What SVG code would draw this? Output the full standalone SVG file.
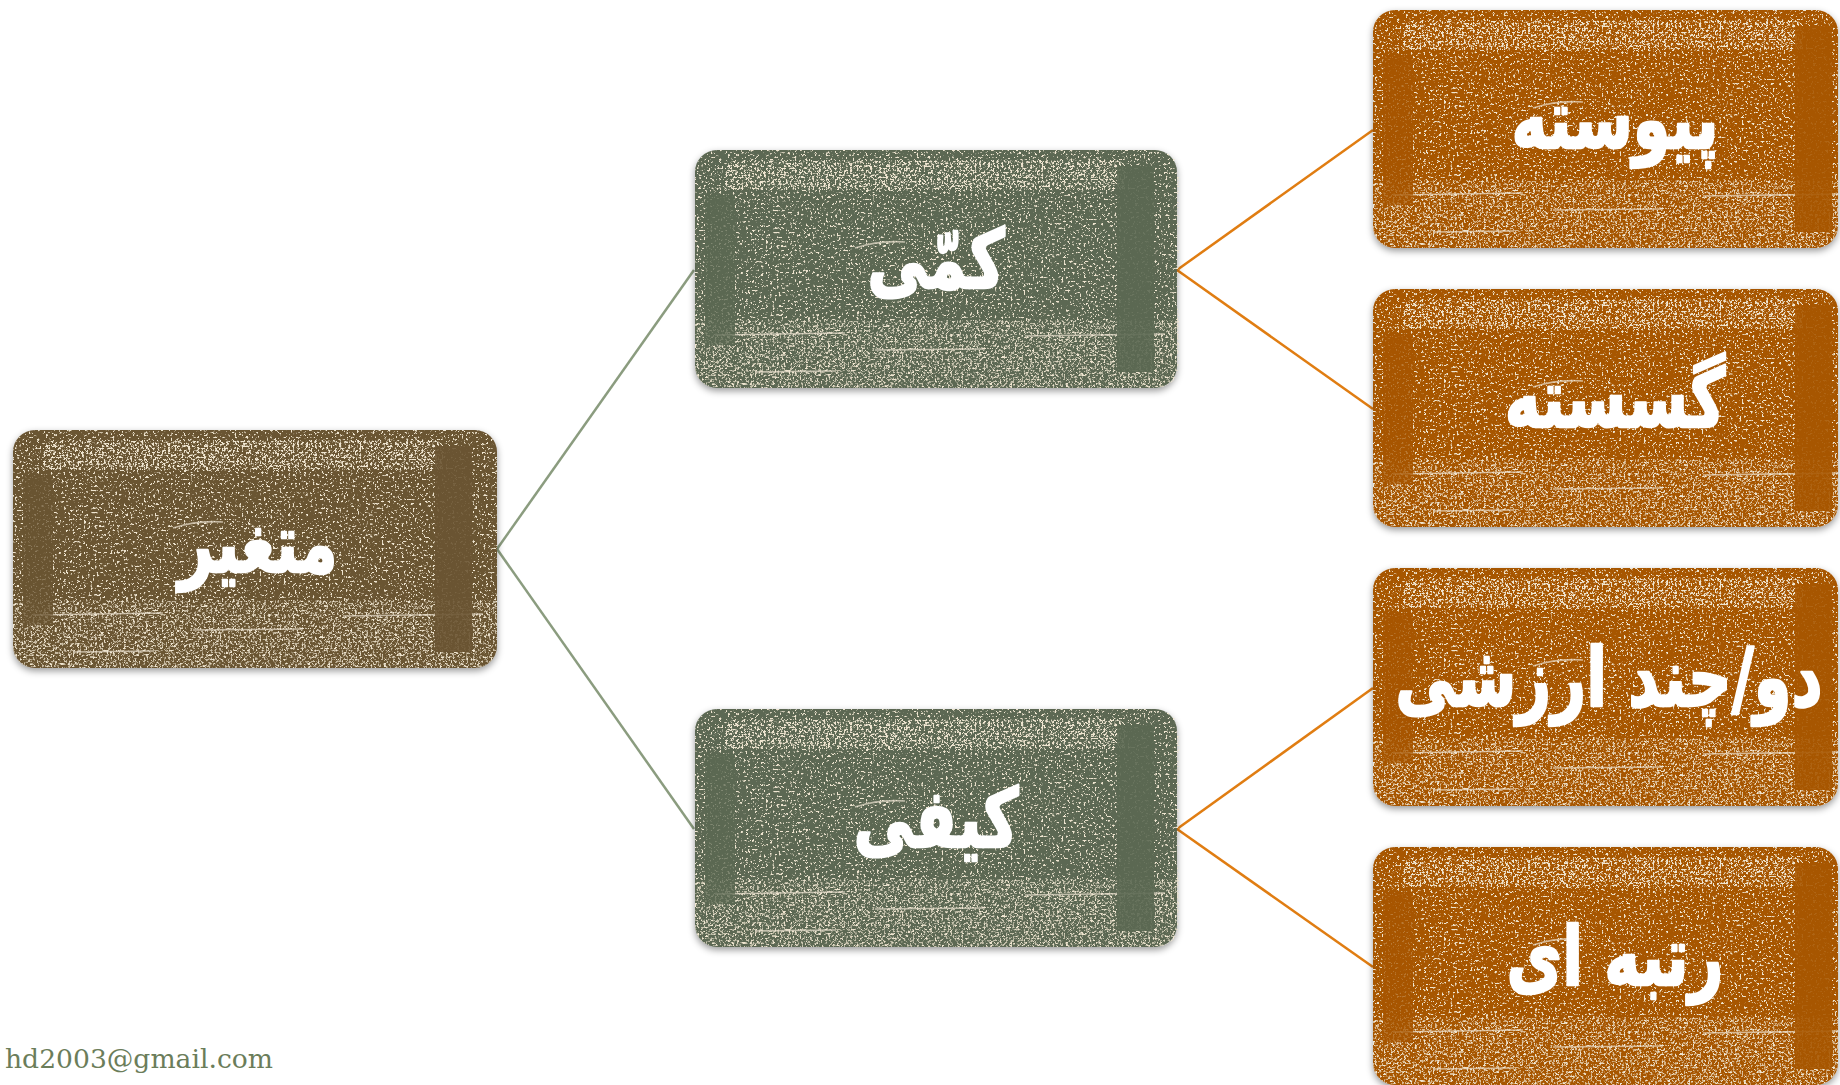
<svg xmlns="http://www.w3.org/2000/svg" width="1840" height="1085" viewBox="0 0 1840 1085">
<style>
.bg{fill:#ffffff}
.brown{fill:#6a5432}
.green{fill:#5b6852}
.orange{fill:#a75600}
.speck{fill:#000}
.lbl{font-family:"DejaVu Sans","Noto Sans",sans-serif;font-weight:bold;font-size:82px;fill:#ffffff;stroke:#ffffff;stroke-width:2.5;stroke-linejoin:round;text-anchor:middle;direction:rtl}
.c-green{stroke:#8b9c7f;stroke-width:2.5;fill:none}
.c-orange{stroke:#e07d12;stroke-width:2.5;fill:none}
.mail{font-family:"DejaVu Serif","Liberation Serif",serif;fill:#6b7d5a;font-size:26px}
.scr{stroke:#ece3d2;stroke-width:1.6;fill:none;opacity:0.7}
</style>
<defs>
<filter id="shadow" x="-5%" y="-5%" width="110%" height="115%">
<feDropShadow dx="0" dy="3" stdDeviation="3.5" flood-color="#000" flood-opacity="0.4"/>
</filter>
<filter id="speck" x="0" y="0" width="100%" height="100%" color-interpolation-filters="sRGB">
<feTurbulence type="fractalNoise" baseFrequency="0.45" numOctaves="3" seed="11" result="n"/>
<feColorMatrix in="n" type="matrix" values="0 0 0 0 0.94  0 0 0 0 0.9  0 0 0 0 0.82  9 0 0 0 -5.4" result="s"/>
<feComposite in="s" in2="SourceAlpha" operator="in"/>
</filter>
<filter id="speckDense" x="0" y="0" width="100%" height="100%" color-interpolation-filters="sRGB">
<feTurbulence type="fractalNoise" baseFrequency="0.45" numOctaves="3" seed="4" result="n"/>
<feColorMatrix in="n" type="matrix" values="0 0 0 0 0.94  0 0 0 0 0.9  0 0 0 0 0.82  9 0 0 0 -4.9" result="s"/>
<feComposite in="s" in2="SourceAlpha" operator="in"/>
</filter>
<clipPath id="clipFull"><rect width="484" height="238" rx="22"/></clipPath>
<clipPath id="clipOrange"><rect width="465" height="238" rx="22"/></clipPath>
<symbol id="grain" viewBox="0 0 484 238" width="484" height="238" overflow="visible">
<rect class="speck" width="484" height="238" filter="url(#speck)"/>
<rect class="speck" x="30" y="10" width="400" height="30" filter="url(#speckDense)"/>
<rect class="speck" x="0" y="170" width="484" height="68" filter="url(#speckDense)" opacity="0.7"/>
<path class="scr" d="M160,98 Q185,90 210,92"/>
<path class="scr" d="M20,185 L150,183 M180,200 L290,199 M330,186 L470,184 M60,222 L140,221"/>
</symbol>
</defs>
<rect class="bg" width="1840" height="1085"/>
<g id="connectors">
<path class="c-green" d="M497,549 L694,270"/>
<path class="c-green" d="M497,549 L694,829"/>
<path class="c-orange" d="M1177,270 L1373,130"/>
<path class="c-orange" d="M1177,270 L1373,409"/>
<path class="c-orange" d="M1177,829 L1373,688"/>
<path class="c-orange" d="M1177,829 L1373,967"/>
</g>
<g id="node-motaghayer" transform="translate(13,430)">
<rect class="brown" width="484" height="238" rx="22" filter="url(#shadow)"/>
<g clip-path="url(#clipFull)">
<use href="#grain"/>
<rect class="brown" x="10" y="45" width="30" height="150" opacity="0.75"/>
<rect class="brown" x="422" y="16" width="37" height="206" opacity="0.9"/>
</g>
<text class="lbl" transform="translate(245,142) scale(0.74,1)">متغیر</text>
</g>
<g id="node-kammi" transform="translate(695,150)">
<rect class="green" width="482" height="238" rx="22" filter="url(#shadow)"/>
<g clip-path="url(#clipFull)">
<use href="#grain"/>
<rect class="green" x="10" y="45" width="30" height="150" opacity="0.75"/>
<rect class="green" x="422" y="16" width="37" height="206" opacity="0.9"/>
</g>
<text class="lbl" transform="translate(241,138) scale(0.74,1)">کمّی</text>
</g>
<g id="node-keyfi" transform="translate(695,709)">
<rect class="green" width="482" height="238" rx="22" filter="url(#shadow)"/>
<g clip-path="url(#clipFull)">
<use href="#grain"/>
<rect class="green" x="10" y="45" width="30" height="150" opacity="0.75"/>
<rect class="green" x="422" y="16" width="37" height="206" opacity="0.9"/>
</g>
<text class="lbl" transform="translate(241,138) scale(0.74,1)">کیفی</text>
</g>
<g id="node-peyvaste" transform="translate(1373,10)">
<rect class="orange" width="465" height="238" rx="22" filter="url(#shadow)"/>
<g clip-path="url(#clipOrange)">
<use href="#grain"/>
<rect class="orange" x="10" y="45" width="30" height="150" opacity="0.75"/>
<rect class="orange" x="422" y="16" width="37" height="206" opacity="0.9"/>
</g>
<text class="lbl" transform="translate(242,138) scale(0.74,1)">پیوسته</text>
</g>
<g id="node-gosaste" transform="translate(1373,289)">
<rect class="orange" width="465" height="238" rx="22" filter="url(#shadow)"/>
<g clip-path="url(#clipOrange)">
<use href="#grain"/>
<rect class="orange" x="10" y="45" width="30" height="150" opacity="0.75"/>
<rect class="orange" x="422" y="16" width="37" height="206" opacity="0.9"/>
</g>
<text class="lbl" transform="translate(242,138) scale(0.74,1)">گسسته</text>
</g>
<g id="node-do-chand" transform="translate(1373,568)">
<rect class="orange" width="465" height="238" rx="22" filter="url(#shadow)"/>
<g clip-path="url(#clipOrange)">
<use href="#grain"/>
<rect class="orange" x="10" y="45" width="30" height="150" opacity="0.75"/>
<rect class="orange" x="422" y="16" width="37" height="206" opacity="0.9"/>
</g>
<text class="lbl" transform="translate(236,138) scale(0.74,1)">دو/چند ارزشی</text>
</g>
<g id="node-rotbe" transform="translate(1373,847)">
<rect class="orange" width="465" height="238" rx="22" filter="url(#shadow)"/>
<g clip-path="url(#clipOrange)">
<use href="#grain"/>
<rect class="orange" x="10" y="45" width="30" height="150" opacity="0.75"/>
<rect class="orange" x="422" y="16" width="37" height="206" opacity="0.9"/>
</g>
<text class="lbl" transform="translate(242,138) scale(0.74,1)">رتبه ای</text>
</g>
<text class="mail" x="5" y="1068" textLength="268" lengthAdjust="spacingAndGlyphs">hd2003@gmail.com</text>
</svg>
